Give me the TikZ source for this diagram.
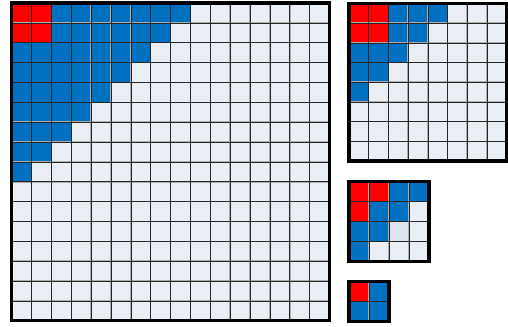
\documentclass[tikz,border=0pt]{standalone}
\usetikzlibrary{calc}
\definecolor{tileRed}{HTML}{FF0000}
\definecolor{tileBlue}{HTML}{0070C0}
\definecolor{tileEmpty}{HTML}{E9EDF4}
\definecolor{tileShade}{HTML}{DCE4EF}
\tikzset{
  gridhalo/.style={gray!65, line width=2.2pt},
  gridcore/.style={black!85, line width=0.7pt},
  gridframe/.style={black, line width=4.6pt, line join=miter}
}

\begin{document}
\begin{tikzpicture}[x=1cm, y=-1cm]
  \useasboundingbox (0,0) rectangle (25.4,16.35);

  %% --- Large 16x16 tile: staircase of 9, red 2x2 corner ---
  \begin{scope}[shift={(0.585,0.15)}, scale=0.993]
    \fill[tileEmpty] (0,0) rectangle (16,16);
    \foreach \r in {0,...,8} {
      \pgfmathtruncatemacro{\w}{9-\r}
      \fill[tileBlue] (0,\r) rectangle (\w,\r+1);
    }
    \fill[tileRed] (0,0) rectangle (2,2);
    \draw[gridhalo] (0,0) grid (16,16);
    \draw[gridcore] (0,0) grid (16,16);
    \draw[gridframe] (0,0) rectangle (16,16);
  \end{scope}

  %% --- 8x8 tile: staircase of 5 ---
  \begin{scope}[shift={(17.45,0.17)}, scale=0.985]
    \fill[tileEmpty] (0,0) rectangle (8,8);
    \foreach \r in {0,...,4} {
      \pgfmathtruncatemacro{\w}{5-\r}
      \fill[tileBlue] (0,\r) rectangle (\w,\r+1);
    }
    \fill[tileRed] (0,0) rectangle (2,2);
    \draw[gridhalo] (0,0) grid (8,8);
    \draw[gridcore] (0,0) grid (8,8);
    \draw[gridframe] (0,0) rectangle (8,8);
  \end{scope}

  %% --- 4x4 tile: staircase of 4, red corner of 3 ---
  \begin{scope}[shift={(17.45,9.08)}]
    \fill[tileEmpty] (0,0) rectangle (4,4);
    \foreach \r in {0,...,3} {
      \pgfmathtruncatemacro{\w}{4-\r}
      \fill[tileBlue] (0,\r) rectangle (\w,\r+1);
    }
    \fill[tileShade] (2,2) rectangle (3,3);
    \fill[tileRed] (0,0) rectangle (2,1) (0,1) rectangle (1,2);
    \draw[gridhalo] (0,0) grid (4,4);
    \draw[gridcore] (0,0) grid (4,4);
    \draw[gridframe] (0,0) rectangle (4,4);
  \end{scope}

  %% --- 2x2 tile ---
  \begin{scope}[shift={(17.45,14.08)}]
    \fill[tileBlue] (0,0) rectangle (2,2);
    \fill[tileRed] (0,0) rectangle (1,1);
    \draw[gridhalo] (0,0) grid (2,2);
    \draw[gridcore] (0,0) grid (2,2);
    \draw[gridframe] (0,0) rectangle (2,2);
  \end{scope}
\end{tikzpicture}
\end{document}
